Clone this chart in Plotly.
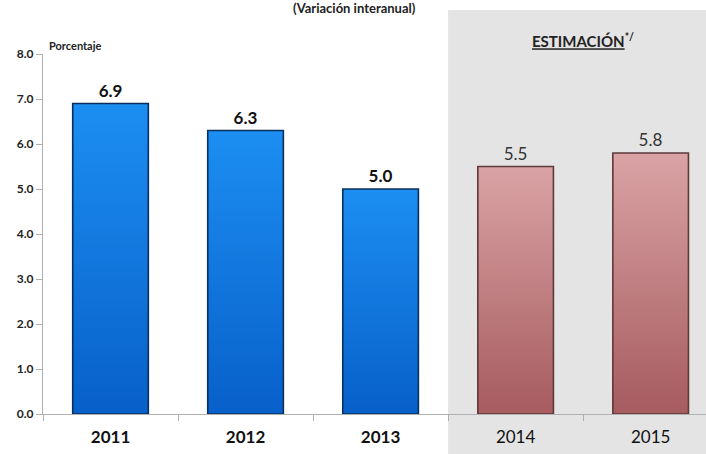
import plotly.graph_objects as go

# Crecimiento anual (porcentaje)
years_obs = ["2011", "2012", "2013"]
vals_obs = [6.9, 6.3, 5.0]
years_est = ["2014", "2015"]
vals_est = [5.5, 5.8]

y_ticks = [0, 1, 2, 3, 4, 5, 6, 7, 8]
FONT = "Lato"
BAR_W = 0.56

years = years_obs + years_est
x_obs = list(range(len(years_obs)))
x_est = [len(years_obs) + i for i in range(len(years_est))]

fig = go.Figure()

def add_bars(xs, vals, top, bottom, edge, bold, color):
    # gradient body of each bar
    for x, v in zip(xs, vals):
        x0, x1 = x - BAR_W / 2, x + BAR_W / 2
        fig.add_trace(go.Scatter(
            x=[x0, x1, x1, x0, x0], y=[0, 0, v, v, 0],
            mode="lines", fill="toself",
            fillgradient=dict(type="vertical",
                              colorscale=[[0, bottom], [1, top]]),
            line=dict(color=edge, width=1.6),
            hoverinfo="skip", showlegend=False))
    # value labels
    fig.add_trace(go.Bar(
        x=xs, y=vals, width=BAR_W,
        marker=dict(color="rgba(0,0,0,0)", line=dict(width=0)),
        text=[(f"<b>{v:.1f}</b>" if bold else f"{v:.1f}") for v in vals],
        textposition="outside", cliponaxis=False,
        textfont=dict(family=FONT, size=17, color=color),
        hoverinfo="skip", showlegend=False))

add_bars(x_obs, vals_obs, "#1c8ef2", "#0860ca", "#0b2f5c", True, "#111111")
add_bars(x_est, vals_est, "#daa3a5", "#a65b5f", "#5e3a3a", False, "#333333")

ticktext = [f"<b>{y}</b>" for y in years_obs] + years_est

# shaded estimation region
fig.add_shape(type="rect", xref="x", yref="paper",
              x0=len(years_obs) - 0.5, x1=6, y0=-0.2, y1=1.122,
              fillcolor="#e4e4e4", line=dict(width=0), layer="below")

fig.add_annotation(text="<b>(Variación interanual)</b>", xref="paper", yref="paper",
                   x=0.47, y=1.128, showarrow=False, xanchor="center", yanchor="middle",
                   font=dict(family=FONT, size=13, color="#222222"))
fig.add_annotation(text="<b><u>ESTIMACIÓN</u><sup>*/</sup></b>", xref="x", yref="paper",
                   x=3.5, y=1.0375, showarrow=False, xanchor="center", yanchor="middle",
                   font=dict(family=FONT, size=15, color="#222222"))
fig.add_annotation(text="<b>Porcentaje</b>", xref="paper", yref="paper",
                   x=0.006, y=1.025, showarrow=False, xanchor="left", yanchor="middle",
                   font=dict(family=FONT, size=11, color="#222222"))

fig.update_layout(
    width=706, height=454,
    margin=dict(l=43, r=0, t=54, b=40),
    paper_bgcolor="white", plot_bgcolor="rgba(0,0,0,0)",
    barmode="overlay", bargap=0,
    xaxis=dict(range=[-0.5, 4.41], tickvals=list(range(len(years))), ticktext=ticktext,
               ticks="", showgrid=False, zeroline=False, ticklabelstandoff=8,
               showline=True, linecolor="#b0b0b0", linewidth=1,
               tickfont=dict(family=FONT, size=17, color="#111111"),
               minor=dict(tickvals=[i - 0.5 for i in range(len(years) + 1)],
                          ticks="outside", ticklen=6, tickcolor="#b0b0b0", showgrid=False)),
    yaxis=dict(range=[0, 8], tickvals=y_ticks, ticktext=[f"<b>{t:.1f}</b>" for t in y_ticks],
               ticks="outside", ticklen=6, tickcolor="#b0b0b0",
               showgrid=False, zeroline=False,
               showline=True, linecolor="#b0b0b0", linewidth=1,
               tickfont=dict(family=FONT, size=12, color="#222222")),
)

fig.write_html("out.html")
